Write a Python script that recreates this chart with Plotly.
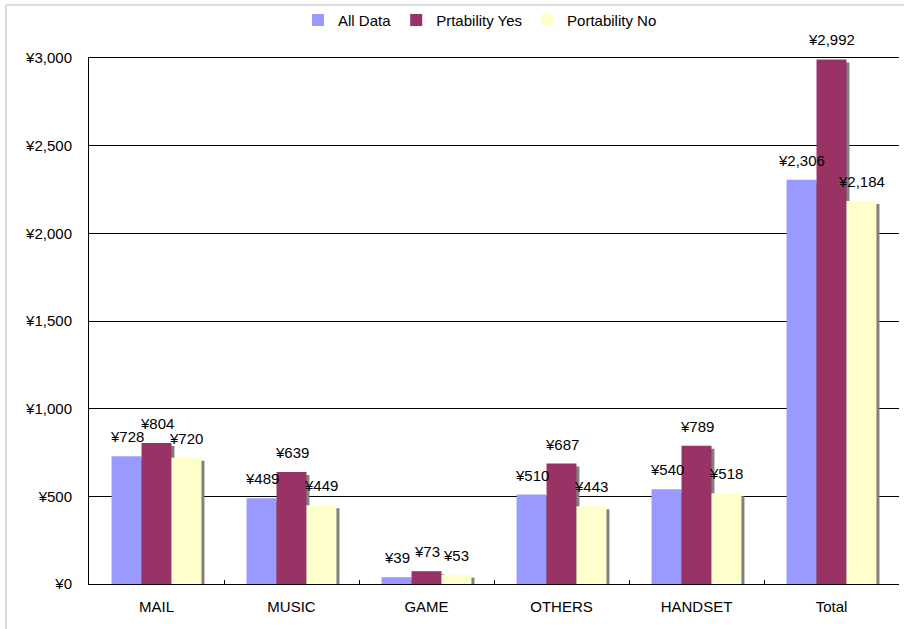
import plotly.graph_objects as go

categories = ["MAIL", "MUSIC", "GAME", "OTHERS", "HANDSET", "Total"]
all_data = [728, 489, 39, 510, 540, 2306]
port_yes = [804, 639, 73, 687, 789, 2992]
port_no = [720, 449, 53, 443, 518, 2184]

series = [
    ("All Data", all_data, "#9999FF"),
    ("Prtability Yes", port_yes, "#993366"),
    ("Portability No", port_no, "#FFFFCC"),
]

bar_w = 0.222
offsets = [-1.5 * bar_w, -0.5 * bar_w, 0.5 * bar_w]
shadow_dx = 0.022
shadow_dy = 17
cat_px = 810 / 6

fig = go.Figure()

# shadows
for (name, vals, color), off in zip(series, offsets):
    fig.add_trace(go.Bar(
        x=categories, y=[v - shadow_dy for v in vals],
        offset=off + shadow_dx, width=bar_w,
        marker=dict(color="#808080", line=dict(width=0)),
        showlegend=False, hoverinfo="skip",
    ))

for (name, vals, color), off in zip(series, offsets):
    fig.add_trace(go.Bar(
        x=categories, y=vals, name=name,
        offset=off, width=bar_w,
        marker=dict(color=color, line=dict(width=0)),
    ))

annotations = []
for (name, vals, color), off in zip(series, offsets):
    for c, v in zip(categories, vals):
        annotations.append(dict(
            x=c, y=v, xref="x", yref="y",
            text=f"¥{v:,}", showarrow=False,
            xshift=(off + bar_w / 2) * cat_px, yshift=9,
            yanchor="bottom", xanchor="center",
            font=dict(size=15, color="black"),
        ))

fig.update_layout(
    width=904, height=629,
    barmode="overlay",
    paper_bgcolor="white", plot_bgcolor="white",
    font=dict(family="Liberation Sans, Arial, sans-serif", size=15, color="black"),
    margin=dict(l=89, r=5, t=58, b=45, autoexpand=False),
    legend=dict(orientation="h", xref="container", yref="container",
                x=0.531, xanchor="center", y=0.968, yanchor="middle",
                font=dict(size=15), itemwidth=30, traceorder="normal",
                bgcolor="rgba(0,0,0,0)"),
    annotations=annotations,
    shapes=[dict(type="rect", xref="paper", yref="paper",
                 x0=-0.1025, x1=1.02, y0=-0.2, y1=1.1008,
                 line=dict(color="#BBBBBB", width=1), layer="below")],
)
fig.update_xaxes(
    type="category", showline=True, linecolor="black", linewidth=1, mirror=True,
    ticks="inside", tickson="boundaries", ticklen=4, tickcolor="black",
    showgrid=False, ticklabelstandoff=9, range=[-0.5, 5.5], automargin=False,
)
fig.update_yaxes(
    range=[0, 3000], dtick=500, tickprefix="¥", tickformat=",",
    showline=True, linecolor="black", linewidth=1,
    showgrid=True, gridcolor="black", gridwidth=1,
    zeroline=False, ticks="", ticklabelstandoff=13, automargin=False,
)

fig.write_html("out.html", config={"displayModeBar": False},
               post_script="document.body.style.margin='0';")
